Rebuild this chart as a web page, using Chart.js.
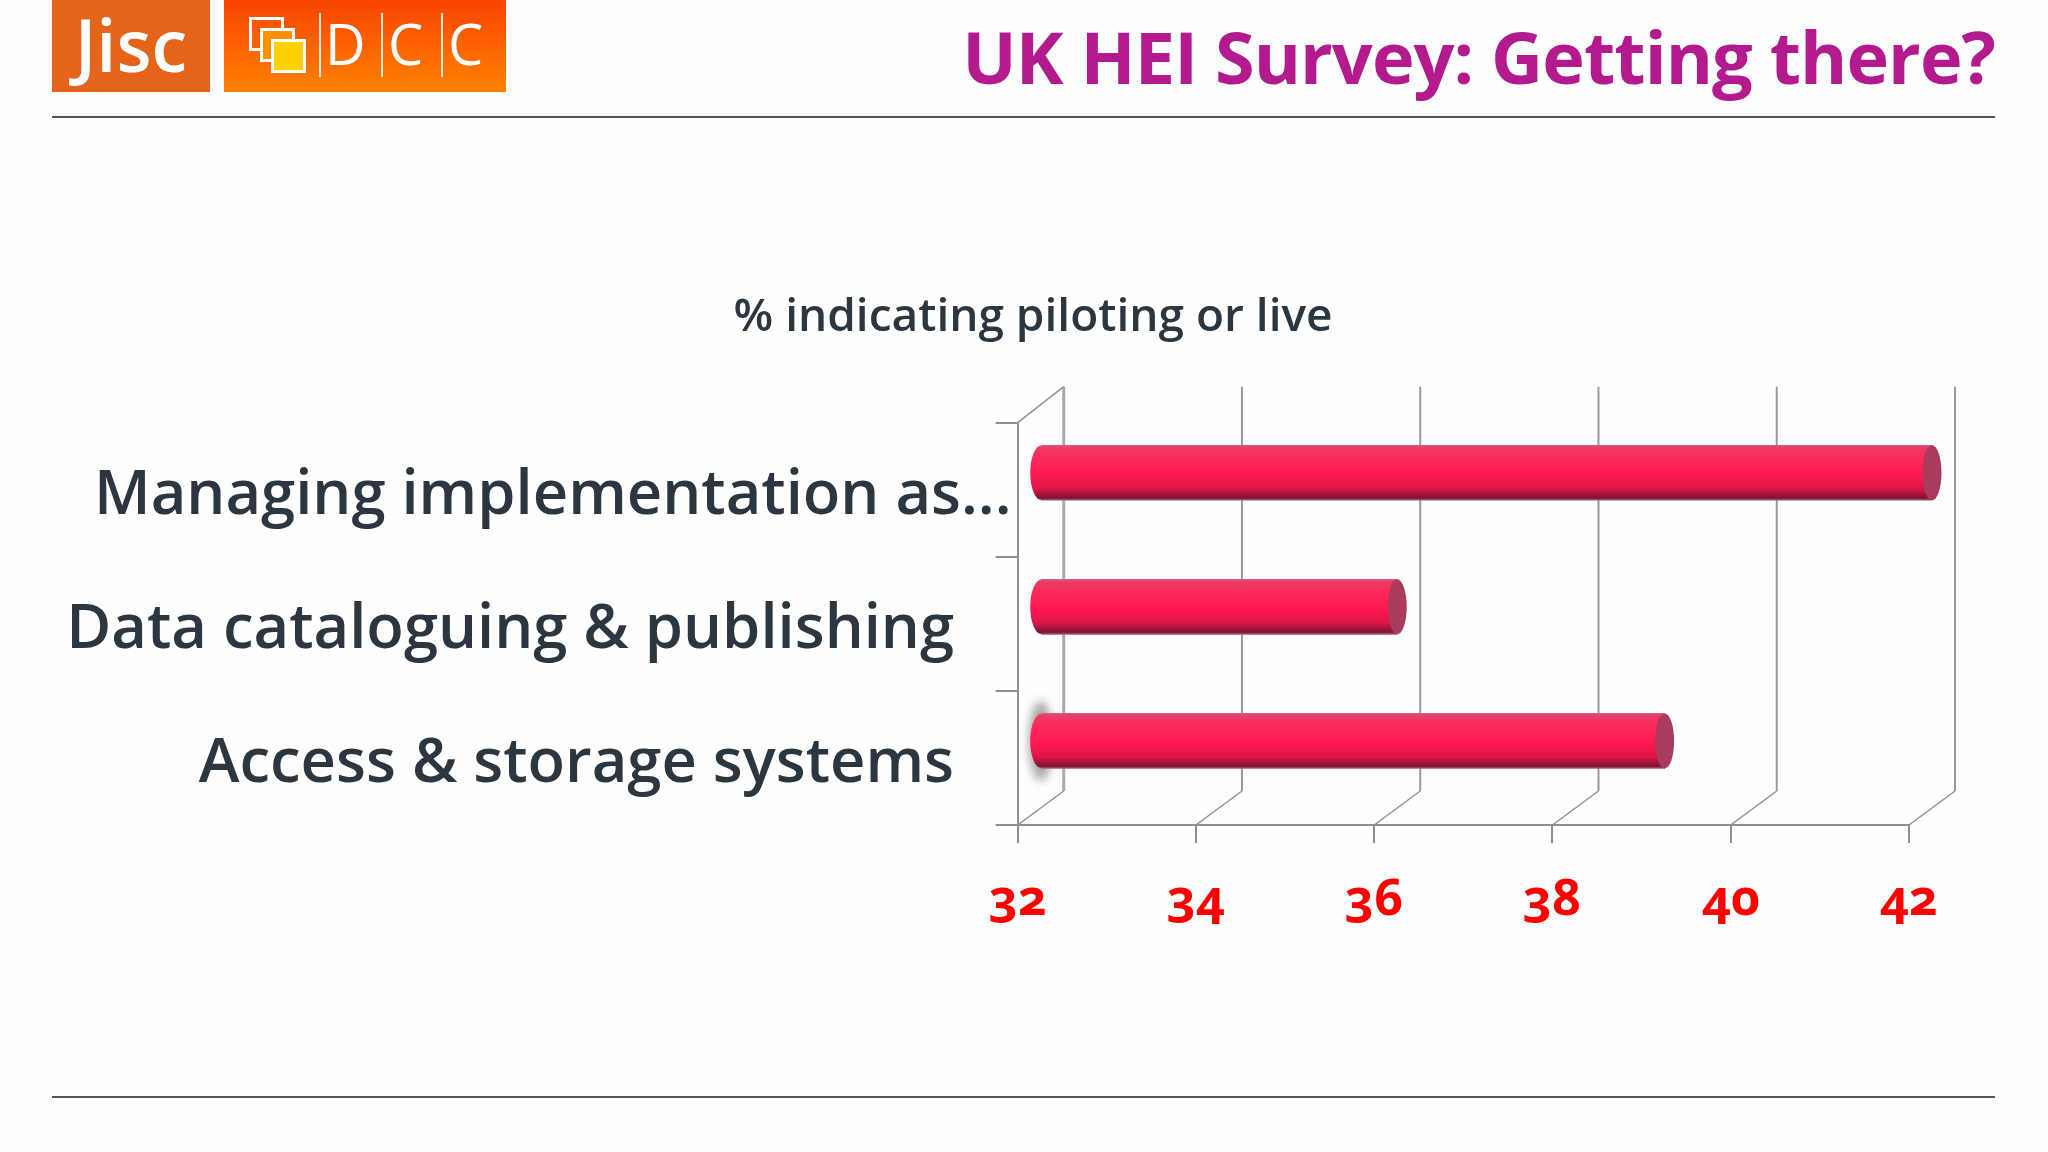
<!DOCTYPE html>
<html>
<head>
<meta charset="utf-8">
<title>UK HEI Survey</title>
<script src="https://cdn.jsdelivr.net/npm/chart.js@4"></script>
<style>
  @font-face { font-family: "OldNums"; src: local("Open Sans Bold"), local("OpenSans-Bold"); font-weight: 700; font-feature-settings: "onum" 1; }
  html, body { margin: 0; background: #fefefe; }
  #slide { position: relative; width: 2048px; height: 1152px; overflow: hidden; font-family: "Open Sans", sans-serif; }
  #chart { position: absolute; left: 0; top: 0; }
  .rule { position: absolute; left: 52px; width: 1943px; height: 2px; background: #555; }
  #heading { position: absolute; right: 53px; top: 11px; font-size: 72px; line-height: 90px; font-weight: 700; letter-spacing: -0.9px; color: #b21a8e; white-space: nowrap; }
  .logo { position: absolute; top: 0; height: 92px; color: #fff; overflow: hidden; }
  #jisc { left: 52px; width: 158px; background: #e4641a; font-size: 72px; line-height: 88px; text-align: center; font-weight: 600; }
  #dcc { left: 224px; width: 282px; background: linear-gradient(#f84400, #ff8200); font-size: 56px; line-height: 86px; font-weight: 400; }
  #dcc span { position: absolute; top: 0; }
  #dcc i { position: absolute; top: 13px; width: 2px; height: 64px; background: #fff; opacity: .85; }
  #dcc b { position: absolute; box-sizing: border-box; width: 35px; height: 34px; border: 3px solid #fff; }
</style>
</head>
<body>
<div id="slide">
  <div class="logo" id="jisc">Jisc</div>
  <div class="logo" id="dcc">
    <b style="left:25px;top:17px"></b>
    <b style="left:36px;top:28px;background:#ff9000"></b>
    <b style="left:47px;top:39px;background:#ffd000"></b>
    <i style="left:95px"></i><i style="left:157px"></i><i style="left:217px"></i>
    <span style="left:101px">D</span><span style="left:164px">C</span><span style="left:224px">C</span>
  </div>
  <div id="heading">UK HEI Survey: Getting there?</div>
  <div class="rule" style="top:116px"></div>
  <div class="rule" style="top:1096px"></div>
  <canvas id="chart" width="2048" height="1152" style="width:2048px;height:1152px"></canvas>
</div>
<script>
const categories = ['Managing implementation as...', 'Data cataloguing & publishing', 'Access & storage systems']
const values = [42, 36, 39]
const axisMin = 32
const axisMax = 42
const axisStep = 2
const chartTitle = '% indicating piloting or live'

const gridColor = '#909090'
const labelColor = '#2b3640'
const labelFont = '600 61.5px "Open Sans"'
const labelRight = 954
// how far the bars and the back wall sit behind the front of the fake 3d box
const wallX = 46
const wallTop = 36
const wallBottom = 34
const barX = 23
const barY = -17
const barH = 55
const capX = 9.5

function barGradient(ctx, y) {
  const g = ctx.createLinearGradient(0, y - barH / 2, 0, y + barH / 2)
  g.addColorStop(0, '#d8587a')
  g.addColorStop(0.05, '#ec3c64')
  g.addColorStop(0.2, '#fb2c5a')
  g.addColorStop(0.55, '#ff1850')
  g.addColorStop(0.8, '#d81648')
  g.addColorStop(0.96, '#7c1232')
  g.addColorStop(1, '#a85a70')
  return g
}

const box3d = {
  id: 'box3d',
  beforeDatasetsDraw(chart) {
    const ctx = chart.ctx
    const x = chart.scales.x
    const { top, bottom } = chart.chartArea
    ctx.save()
    ctx.strokeStyle = gridColor
    x.ticks.forEach(function (t, i) {
      const px = x.getPixelForTick(i)
      ctx.lineWidth = i == 0 ? 3 : 2
      ctx.strokeStyle = i == 0 ? '#aaa' : '#999'
      ctx.beginPath()
      ctx.moveTo(px + wallX, top - wallTop)
      ctx.lineTo(px + wallX, bottom - wallBottom)
      ctx.stroke()
      ctx.lineWidth = 1.5
      ctx.strokeStyle = gridColor
      ctx.beginPath()
      ctx.moveTo(px + wallX, bottom - wallBottom)
      ctx.lineTo(px, bottom)
      ctx.stroke()
    })
    ctx.beginPath()
    ctx.moveTo(x.getPixelForTick(0) + wallX, top - wallTop)
    ctx.lineTo(x.getPixelForTick(0), top)
    ctx.stroke()

    // smudge behind the last bar
    const last = chart.getDatasetMeta(0).data[categories.length - 1]
    ctx.filter = 'blur(5px)'
    ctx.fillStyle = 'rgba(120,120,120,.65)'
    ctx.beginPath()
    ctx.ellipse(last.base + barX - 1, last.y + barY, 12, 40, 0, 0, Math.PI * 2)
    ctx.fill()
    ctx.restore()
  },
  beforeDatasetDraw(chart, args) {
    const ctx = chart.ctx
    ctx.save()
    ctx.translate(barX, barY)
    args.meta.data.forEach(function (b) {
      ctx.fillStyle = barGradient(ctx, b.y)
      ctx.beginPath()
      ctx.ellipse(b.base, b.y, capX + 2, barH / 2, 0, 0, Math.PI * 2)
      ctx.fill()
    })
  },
  afterDatasetDraw(chart, args) {
    const ctx = chart.ctx
    args.meta.data.forEach(function (b) {
      ctx.fillStyle = '#a83c5a'
      ctx.beginPath()
      ctx.ellipse(b.x, b.y, capX, barH / 2, 0, 0, Math.PI * 2)
      ctx.fill()
    })
    ctx.restore()
  },
  afterDraw(chart) {
    // category labels: right aligned, the dots of a cut label hang past the edge
    const ctx = chart.ctx
    const y = chart.scales.y
    ctx.save()
    ctx.font = labelFont
    ctx.fillStyle = labelColor
    ctx.textAlign = 'right'
    ctx.textBaseline = 'alphabetic'
    categories.forEach(function (label, i) {
      const hang = label.endsWith('...') ? ctx.measureText('...').width + 7 : 0
      ctx.fillText(label, labelRight + hang, y.getPixelForTick(i) + 24.5)
    })
    ctx.restore()
  }
}

document.fonts.load('700 50px OldNums').finally(function () {
  new Chart(document.getElementById('chart'), {
    type: 'bar',
    data: {
      labels: categories,
      datasets: [{
        data: values,
        base: axisMin,
        barThickness: barH,
        clip: false,
        backgroundColor: function (c) {
          return barGradient(c.chart.ctx, c.chart.scales.y.getPixelForTick(c.dataIndex))
        }
      }]
    },
    options: {
      indexAxis: 'y',
      responsive: false,
      animation: false,
      layout: { padding: { left: 157, right: 139, top: 290, bottom: 227 } },
      plugins: {
        legend: { display: false },
        tooltip: { enabled: false },
        title: {
          display: true,
          text: chartTitle,
          color: labelColor,
          font: { family: 'Open Sans', size: 46, weight: '600' },
          padding: { top: 0, bottom: 77.5 }
        }
      },
      scales: {
        x: {
          min: axisMin,
          max: axisMax,
          afterFit: function (s) { s.height = 100 },
          ticks: { stepSize: axisStep, maxRotation: 0, padding: 28, color: '#ff0000', font: { family: 'OldNums', size: 50, weight: '700' } },
          grid: { drawOnChartArea: false, tickLength: 18, color: gridColor, lineWidth: 2 },
          border: { color: gridColor, width: 2 }
        },
        y: {
          afterFit: function (s) { s.width = 860.7 },
          ticks: { display: false },
          grid: { drawOnChartArea: false, tickLength: 22, color: gridColor, lineWidth: 2 },
          border: { color: gridColor, width: 2 }
        }
      }
    },
    plugins: [box3d]
  })
})
</script>
</body>
</html>
